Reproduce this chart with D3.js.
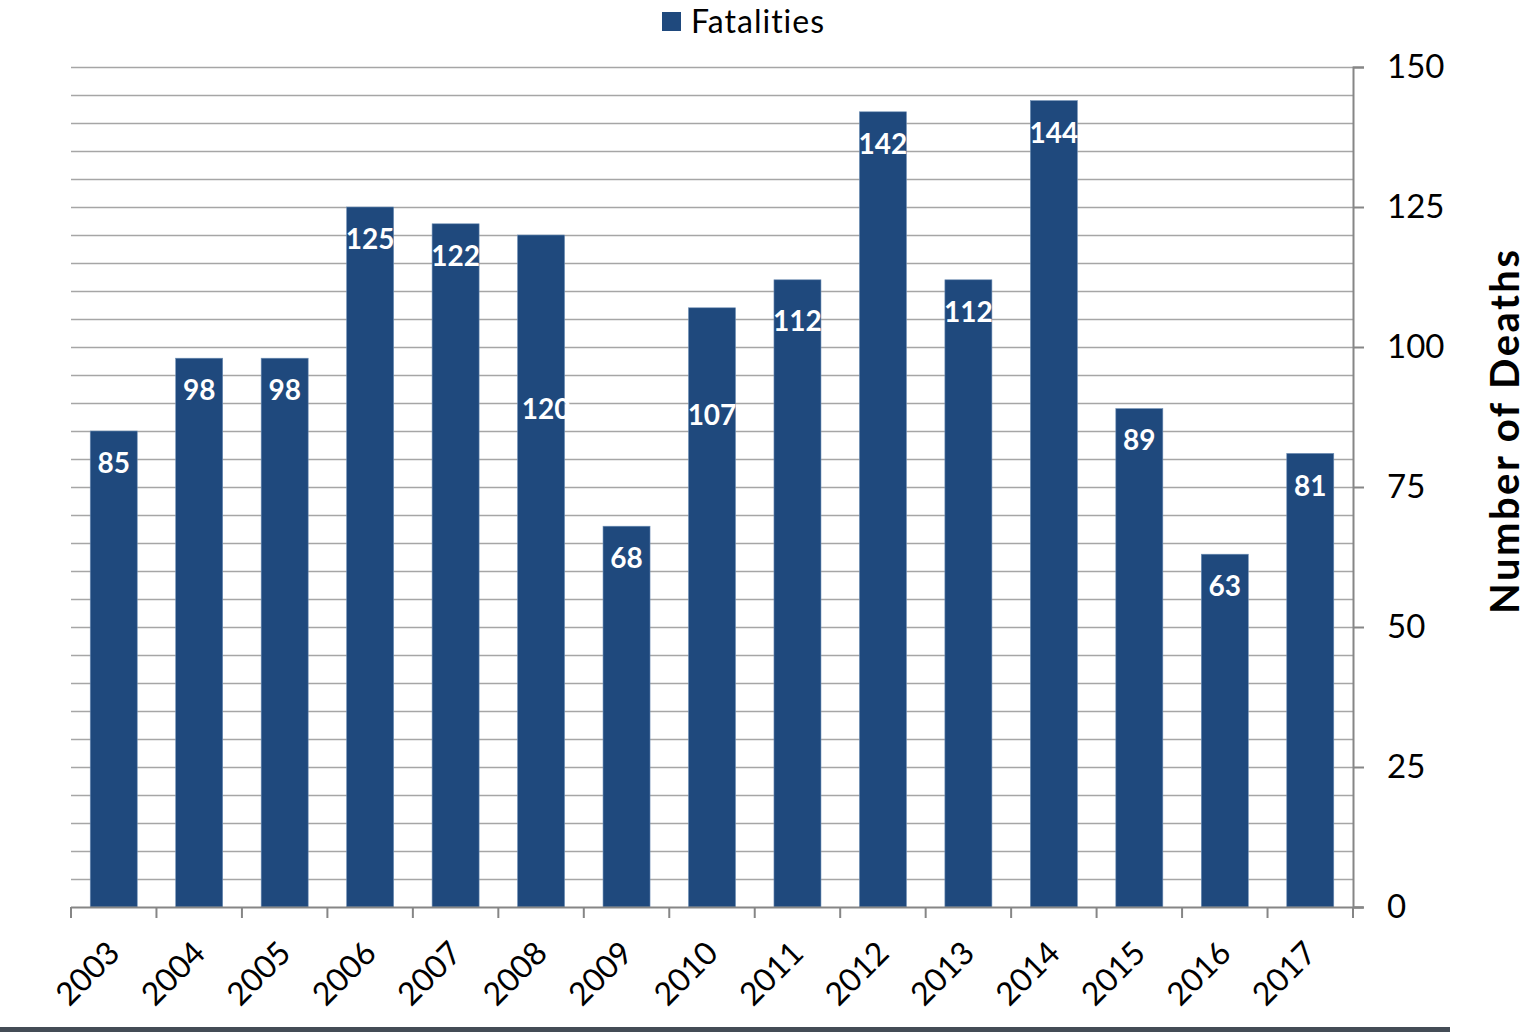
<!DOCTYPE html>
<html>
<head>
<meta charset="utf-8">
<script src="https://cdn.jsdelivr.net/npm/d3@7"></script>
<style>
  html, body { margin: 0; padding: 0; background: #fff; }
  svg { display: block; font-family: Lato, "Open Sans", "Liberation Sans", sans-serif; }
</style>
</head>
<body>
<svg id="chart" width="1533" height="1032"></svg>
<script>
// Fatalities per year
const years = ["2003","2004","2005","2006","2007","2008","2009","2010","2011","2012","2013","2014","2015","2016","2017"];
const fatalities = [85, 98, 98, 125, 122, 120, 68, 107, 112, 142, 112, 144, 89, 63, 81];
const yTicks = [0, 25, 50, 75, 100, 125, 150];
const seriesName = "Fatalities";
const axisTitle = "Number of Deaths";

// Per-bar label placement (pixels below bar top, horizontal shift)
const labelDrop = [32, 32, 32, 32, 32, 174, 32, 107, 41, 32, 32, 33, 32, 32, 33];
const labelShift = [0, 0, 0, 0, 0, 5, 0, 0, 0, 0, 0, 0, 0, 0, 0];

const barColor = "#1f497d";
const gridColor = "#a6a6a6";
const axisColor = "#868686";

const svg = d3.select("#chart");
const plotL = 71, plotR = 1353, plotT = 67, plotB = 907;

const x = d3.scaleBand().domain(years).range([plotL, plotR]).paddingInner(0.45).paddingOuter(0.225);
const y = d3.scaleLinear().domain([0, 150]).range([plotB, plotT]);

// Minor gridlines every 5 units
const grid = svg.append("g");
grid.selectAll("line").data(d3.range(5, 151, 5)).join("line")
  .attr("x1", plotL).attr("x2", plotR)
  .attr("y1", d => y(d) + 0.5).attr("y2", d => y(d) + 0.5)
  .attr("stroke", gridColor).attr("stroke-width", 1.5);

// Bars
svg.append("g").selectAll("rect").data(fatalities).join("rect")
  .attr("x", (d, i) => x(years[i]))
  .attr("y", d => y(d))
  .attr("width", x.bandwidth())
  .attr("height", d => y(0) - y(d))
  .attr("fill", barColor)
  .attr("stroke", "#6f8fb5").attr("stroke-width", 0.6);

// Value labels
svg.append("g").selectAll("text").data(fatalities).join("text")
  .attr("x", (d, i) => x(years[i]) + x.bandwidth() / 2 + labelShift[i])
  .attr("y", (d, i) => y(d) + labelDrop[i])
  .attr("dy", "0.35em")
  .attr("text-anchor", "middle")
  .attr("fill", "#fff")
  .attr("font-weight", "bold")
  .attr("font-size", 28)
  .text(d => d);

// Bottom axis with ticks between categories
const xAxis = svg.append("g");
xAxis.append("line").attr("x1", plotL).attr("x2", plotR + 10)
  .attr("y1", plotB + 0.5).attr("y2", plotB + 0.5)
  .attr("stroke", axisColor).attr("stroke-width", 2);
const step = x.step();
xAxis.selectAll("line.tk").data(d3.range(years.length + 1)).join("line")
  .attr("class", "tk")
  .attr("x1", i => plotL + i * step).attr("x2", i => plotL + i * step)
  .attr("y1", plotB).attr("y2", plotB + 11)
  .attr("stroke", axisColor).attr("stroke-width", 2);
xAxis.selectAll("text").data(years).join("text")
  .attr("transform", d => `translate(${x(d) + x.bandwidth() / 2 + 8},${plotB + 48}) rotate(-45)`)
  .attr("text-anchor", "end")
  .attr("font-size", 32)
  .attr("fill", "#000")
  .text(d => d);

// Right value axis
const yAxis = svg.append("g").attr("transform", `translate(${plotR},0)`)
  .call(d3.axisRight(y).tickValues(yTicks).tickSize(11).tickPadding(23));
yAxis.select(".domain").attr("stroke", axisColor).attr("stroke-width", 2);
yAxis.selectAll(".tick line").attr("stroke", axisColor).attr("stroke-width", 2);
yAxis.selectAll(".tick text").attr("font-size", 33).attr("fill", "#000")
  .attr("font-family", "Lato, 'Open Sans', sans-serif");

// Axis title
svg.append("text")
  .attr("transform", `translate(1519,${(plotT + plotB) / 2 - 55}) rotate(-90)`)
  .attr("text-anchor", "middle")
  .attr("font-size", 40)
  .attr("font-weight", "bold")
  .attr("fill", "#000")
  .attr("textLength", 364)
  .attr("lengthAdjust", "spacing")
  .text(axisTitle);

// Legend
const legend = svg.append("g").attr("transform", "translate(662,12)");
legend.append("rect").attr("width", 19).attr("height", 19).attr("fill", barColor);
legend.append("text").attr("x", 29).attr("y", 10).attr("dy", "0.35em")
  .attr("font-size", 32).attr("letter-spacing", 1).attr("fill", "#000").text(seriesName);

// Footer rule
svg.append("rect").attr("x", 0).attr("y", 1027).attr("width", 1450).attr("height", 5).attr("fill", "#444c56");
</script>
</body>
</html>
